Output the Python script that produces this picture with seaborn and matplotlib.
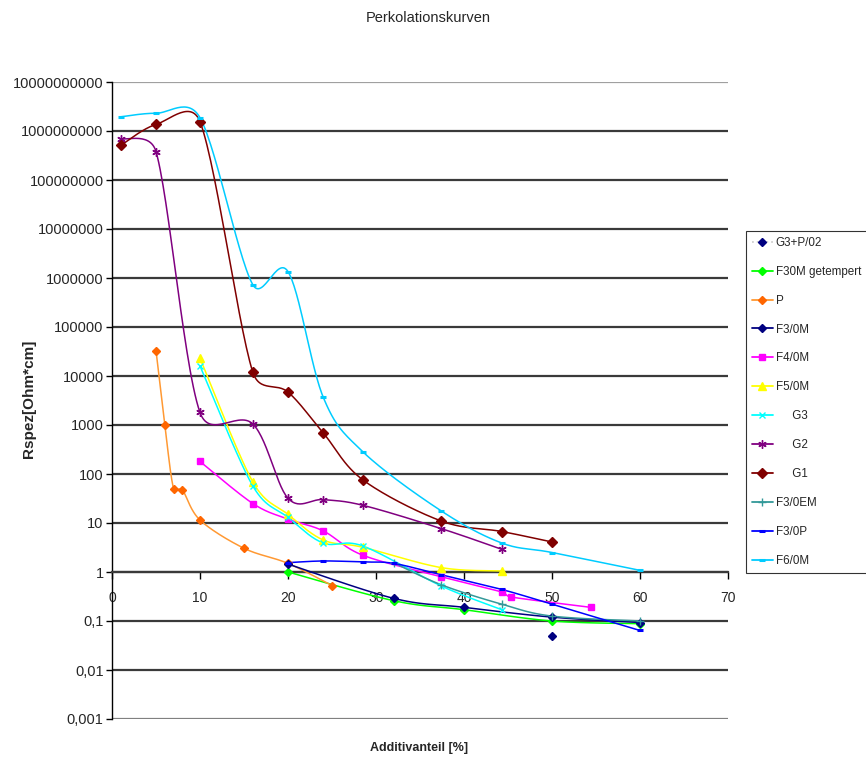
import numpy as np
import matplotlib
matplotlib.use("Agg")
import matplotlib.pyplot as plt
from matplotlib.lines import Line2D
from matplotlib import font_manager
import seaborn as sns

# ---------------- data ----------------
g3p02_x = [50]
g3p02_y = [0.05]

f30m_x = [20, 32, 40, 50, 60]
f30m_y = [1.0, 0.26, 0.17, 0.10, 0.088]

p_x = [5, 6, 7, 8, 10, 15, 20, 25]
p_y = [33000, 1000, 50, 47, 11.5, 3.05, 1.5, 0.53]

f3_0m_x = [20, 32, 40, 50, 60]
f3_0m_y = [1.45, 0.29, 0.19, 0.12, 0.093]

f4_0m_x = [10, 16, 20, 24, 28.5, 37.4, 44.3, 45.3, 54.4]
f4_0m_y = [180, 25, 12, 6.9, 2.2, 0.8, 0.39, 0.31, 0.19]

f5_0m_x = [10, 16, 20, 24, 28.5, 37.4, 44.3]
f5_0m_y = [23000, 69, 15, 4.5, 3.2, 1.23, 1.05]

g3_x = [10, 16, 20, 24, 28.5, 37.4, 44.3]
g3_y = [16000, 57, 13, 3.9, 3.4, 0.52, 0.17]

g2_x = [1, 5, 10, 16, 20, 24, 28.5, 37.4, 44.3]
g2_y = [7e8, 3.8e8, 1800, 1050, 32, 30, 23, 7.7, 2.9]

g1_x = [1, 5, 10, 16, 20, 24, 28.5, 37.4, 44.3, 50]
g1_y = [5.1e8, 1.36e9, 1.55e9, 12000, 4700, 690, 76, 11, 6.7, 4.1]

f3_0em_x = [32, 37.4, 44.3, 50, 60]
f3_0em_y = [1.55, 0.55, 0.22, 0.126, 0.1]

f3_0p_x = [20, 24, 28.5, 32, 37.4, 44.3, 50, 60]
f3_0p_y = [1.55, 1.68, 1.6, 1.5, 0.88, 0.44, 0.22, 0.064]

f6_0m_x = [1, 5, 10, 16, 20, 24, 28.5, 37.4, 44.3, 50, 60]
f6_0m_y = [1.95e9, 2.3e9, 1.87e9, 7.3e5, 1.35e6, 3700, 285, 17.7, 3.9, 2.5, 1.08]

labels = ["G3+P/02", "F30M getempert", "P", "F3/0M", "F4/0M", "F5/0M",
          "     G3", "     G2", "     G1", "F3/0EM", "F3/0P", "F6/0M"]

y_tick_exp = list(range(-3, 11))
x_ticks = [0, 10, 20, 30, 40, 50, 60, 70]

title = "Perkolationskurven"
xlabel = "Additivanteil [%]"
ylabel = "Rspez[Ohm*cm]"

# ---------------- style ----------------
sns.set_style("white")
avail = {f.name for f in font_manager.fontManager.ttflist}
base = "Liberation Sans" if "Liberation Sans" in avail else "DejaVu Sans"
narrow = "Liberation Sans Narrow" if "Liberation Sans Narrow" in avail else base
plt.rcParams["font.family"] = [base, "DejaVu Sans"]

series = [
    # x, y, line color, marker, marker face, marker edge, ms, has_line
    (g3p02_x, g3p02_y, "#000080", "D", "#000080", "#000080", 4.5, False),
    (f30m_x, f30m_y, "#00FF00", "D", "#00FF00", "#00FF00", 4.5, True),
    (p_x, p_y, "#FF9933", "D", "#FF6600", "#FF6600", 4.5, True),
    (f3_0m_x, f3_0m_y, "#000080", "D", "#000080", "#000080", 4.5, True),
    (f4_0m_x, f4_0m_y, "#FF00FF", "s", "#FF00FF", "#FF00FF", 5, True),
    (f5_0m_x, f5_0m_y, "#FFFF00", "^", "#FFFF00", "#FFFF00", 6, True),
    (g3_x, g3_y, "#00FFFF", "x", "#00FFFF", "#00FFFF", 5, True),
    (g2_x, g2_y, "#800080", (6, 2, 0), "#800080", "#800080", 6, True),
    (g1_x, g1_y, "#800000", "D", "#800000", "#800000", 5, True),
    (f3_0em_x, f3_0em_y, "#339999", "+", "#339999", "#339999", 6, True),
    (f3_0p_x, f3_0p_y, "#0000FF", "_", "#0000FF", "#0000FF", 4, True),
    (f6_0m_x, f6_0m_y, "#00CCFF", "_", "#00CCFF", "#00CCFF", 5, True),
]

PX_PER_X = 8.8      # approximate display scale, used only for curve smoothing
PX_PER_DEC = 48.9


def smooth(xs, ys, n=30, k=0.55):
    """Excel-like smoothed line: cubic Bezier through the points (display space)."""
    P = np.column_stack([np.asarray(xs, float) * PX_PER_X,
                         np.log10(np.asarray(ys, float)) * PX_PER_DEC])
    if len(P) < 3:
        return np.asarray(xs, float), np.asarray(ys, float)
    ext = np.vstack([P[0], P, P[-1]])
    pts = []
    for i in range(1, len(ext) - 2):
        p0, p1, p2, p3 = ext[i - 1], ext[i], ext[i + 1], ext[i + 2]
        seg = np.linalg.norm(p2 - p1)
        d1 = (p2 - p0) / 6.0
        d2 = (p3 - p1) / 6.0
        for d in (d1, d2):
            nd = np.linalg.norm(d)
            if nd > k * seg and nd > 0:
                d *= k * seg / nd
        c1 = p1 + d1
        c2 = p2 - d2
        t = np.linspace(0, 1, n)[:, None]
        b = ((1 - t) ** 3) * p1 + 3 * ((1 - t) ** 2) * t * c1 + 3 * (1 - t) * t ** 2 * c2 + t ** 3 * p2
        pts.append(b if i == len(ext) - 3 else b[:-1])
    B = np.vstack(pts)
    return B[:, 0] / PX_PER_X, 10 ** (B[:, 1] / PX_PER_DEC)


fig = plt.figure(figsize=(8.66, 7.61), dpi=100)
ax = fig.add_axes([112 / 866, 1 - 719 / 761, (728 - 112) / 866, (719 - 82) / 761])
ax.set_yscale("log")

handles = []
for (xs, ys, lc, mk, mfc, mec, ms, has_line), lab in zip(series, labels):
    mew = 2.2 if mk == "_" else 1.0
    if has_line:
        sx, sy = smooth(xs, ys)
        sns.lineplot(x=sx, y=sy, sort=False, estimator=None, color=lc,
                     linewidth=1.1, ax=ax, zorder=3)
    ax.plot(xs, ys, linestyle="none", marker=mk, markersize=ms,
            markerfacecolor=mfc, markeredgecolor=mec, markeredgewidth=mew, zorder=4)
    handles.append(Line2D([], [], color=lc if has_line else "#d0d0d0",
                          linestyle="-" if has_line else ":", linewidth=1.3,
                          marker=mk, markersize=ms, markerfacecolor=mfc,
                          markeredgecolor=mec, markeredgewidth=mew, label=lab))

ax.set_xlim(0, 70)
ax.set_ylim(1e-3, 1e10)
ax.set_yticks([10.0 ** k for k in y_tick_exp])


def ylab(k):
    if k >= 0:
        return str(10 ** k)
    return "0," + "0" * (-k - 1) + "1"


ax.set_yticklabels([ylab(k) for k in y_tick_exp])
ax.yaxis.set_minor_locator(matplotlib.ticker.NullLocator())
ax.set_xticks(x_ticks)
ax.set_xticklabels([str(v) for v in x_ticks])

ax.grid(axis="y", which="major", color="#3a3a3a", linewidth=1.6, zorder=1)
ax.grid(axis="x", visible=False)
gl = ax.get_ygridlines()
gl[-1].set_color("#a0a0a0")
gl[0].set_color("#808080")

for s in ["top", "right"]:
    ax.spines[s].set_visible(False)
ax.spines["left"].set_color("black")
ax.spines["left"].set_linewidth(1.0)
ax.spines["bottom"].set_position(("data", 1))
ax.spines["bottom"].set_color("#3a3a3a")
ax.spines["bottom"].set_linewidth(1.6)

ax.tick_params(axis="y", which="major", direction="out", length=4, width=1,
               color="black", labelsize=10.5, pad=2, left=True)
ax.tick_params(axis="x", which="major", direction="out", length=5, width=1,
               color="black", labelsize=10, pad=9, bottom=True)
for t in ax.get_xticklabels():
    t.set_fontfamily([narrow, "DejaVu Sans"])

fig.text(428 / 866, 1 - 18 / 761, title, ha="center", va="center",
         fontsize=10.5, family=[narrow, "DejaVu Sans"])
fig.text(419 / 866, 1 - 748 / 761, xlabel, ha="center", va="center",
         fontsize=9, fontweight="bold", family=[narrow, "DejaVu Sans"])
fig.text(29 / 866, 1 - 399 / 761, ylabel, ha="center", va="center", rotation=90,
         fontsize=11, fontweight="bold")

leg = fig.legend(handles=handles, loc="upper left",
                 bbox_to_anchor=(746 / 866, 1 - 231 / 761),
                 frameon=True, fancybox=False, shadow=False, borderaxespad=0,
                 labelspacing=1.45, handlelength=1.8,
                 handletextpad=0.25, borderpad=0.5,
                 prop={"family": [narrow, "DejaVu Sans"], "size": 8.4})
leg.get_frame().set_edgecolor("black")
leg.get_frame().set_linewidth(0.8)

fig.savefig("out.png", dpi=100)
